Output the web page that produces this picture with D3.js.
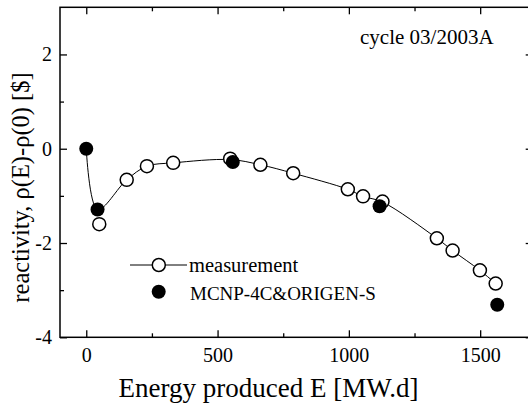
<!DOCTYPE html>
<html>
<head>
<meta charset="utf-8">
<script src="https://cdn.jsdelivr.net/npm/d3@7"></script>
<style>
  html, body { margin: 0; padding: 0; background: #fff; }
  svg { display: block; }
  text { font-family: "Liberation Serif", "Times New Roman", serif; fill: #000; }
</style>
</head>
<body>
<svg id="chart" width="528" height="407"></svg>
<script>
// Measured reactivity change vs. energy produced (open circles)
const measE = [49.5, 154, 231, 331, 548, 663, 788, 996, 1054, 1128, 1335, 1395, 1499, 1559];
const measV = [-1.60, -0.66, -0.37, -0.30, -0.21, -0.34, -0.52, -0.86, -1.01, -1.12, -1.90, -2.16, -2.58, -2.86];

// MCNP-4C & ORIGEN-S calculation (filled circles)
const calcE = [0, 43, 558, 1117, 1565];
const calcV = [0, -1.29, -0.28, -1.22, -3.31];

// Smooth trend line nodes
const fitE = [0, 43, 154, 231, 331, 548, 663, 788, 996, 1054, 1128, 1335, 1395, 1499, 1559];
const fitV = [0, -1.29, -0.66, -0.37, -0.30, -0.23, -0.34, -0.52, -0.86, -1.01, -1.13, -1.90, -2.16, -2.58, -2.86];

// Axis ticks
const xMajor = [0, 500, 1000, 1500];
const xMinor = [250, 750, 1250];
const yMajor = [-4, -2, 0, 2];
const yMinor = [-3, -1, 1];

const seriesNames = ["measurement", "MCNP-4C&ORIGEN-S"];
const annotation = "cycle 03/2003A";
const xTitle = "Energy produced E [MW.d]";
const yTitle = "reactivity, \u03C1(E)-\u03C1(0) [$]";

const svg = d3.select("#chart");
const plotL = 60, plotR = 532.7, plotT = 7.3, plotB = 337.3;

const x = d3.scaleLinear().domain([-100, 1700]).range([plotL, plotR]);
const y = d3.scaleLinear().domain([-4, 3]).range([plotB, plotT]);

const fmt = d => String(d);

function styleAxis(g) {
  g.select(".domain").remove();
  g.selectAll("line").attr("stroke", "#000").attr("stroke-width", 1.3);
  g.selectAll("text").style("font-size", "20px").attr("font-family", null);
}

// bottom axis: major with labels, minor without
svg.append("g").attr("transform", `translate(0,${plotB})`)
  .call(d3.axisBottom(x).tickValues(xMajor).tickFormat(fmt).tickSize(-7).tickPadding(10.5))
  .call(styleAxis);
svg.append("g").attr("transform", `translate(0,${plotB})`)
  .call(d3.axisBottom(x).tickValues(xMinor).tickFormat("").tickSize(-4))
  .call(styleAxis);
// top axis (mirror ticks)
svg.append("g").attr("transform", `translate(0,${plotT})`)
  .call(d3.axisTop(x).tickValues(xMajor).tickFormat("").tickSize(-7))
  .call(styleAxis);
svg.append("g").attr("transform", `translate(0,${plotT})`)
  .call(d3.axisTop(x).tickValues(xMinor).tickFormat("").tickSize(-4))
  .call(styleAxis);
// left axis
svg.append("g").attr("transform", `translate(${plotL},0)`)
  .call(d3.axisLeft(y).tickValues(yMajor).tickFormat(fmt).tickSize(-7).tickPadding(8))
  .call(styleAxis);
svg.append("g").attr("transform", `translate(${plotL},0)`)
  .call(d3.axisLeft(y).tickValues(yMinor).tickFormat("").tickSize(-4))
  .call(styleAxis);
// right axis (mirror ticks)
svg.append("g").attr("transform", `translate(${plotR},0)`)
  .call(d3.axisRight(y).tickValues(yMajor).tickFormat("").tickSize(-7))
  .call(styleAxis);
svg.append("g").attr("transform", `translate(${plotR},0)`)
  .call(d3.axisRight(y).tickValues(yMinor).tickFormat("").tickSize(-4))
  .call(styleAxis);

// frame
svg.append("rect")
  .attr("x", plotL).attr("y", plotT)
  .attr("width", plotR - plotL).attr("height", plotB - plotT)
  .attr("fill", "none").attr("stroke", "#000").attr("stroke-width", 1.5);

// trend line
const line = d3.line()
  .x((d, i) => x(fitE[i]))
  .y((d, i) => y(fitV[i]))
  .curve(d3.curveCatmullRom.alpha(0.5));
svg.append("path")
  .attr("d", line(fitE))
  .attr("fill", "none").attr("stroke", "#000").attr("stroke-width", 1);

// measured points
svg.append("g").selectAll("circle")
  .data(measE)
  .join("circle")
  .attr("cx", (d, i) => x(d))
  .attr("cy", (d, i) => y(measV[i]))
  .attr("r", 6.5)
  .attr("fill", "#fff").attr("stroke", "#000").attr("stroke-width", 1.5);

// calculated points
svg.append("g").selectAll("circle")
  .data(calcE)
  .join("circle")
  .attr("cx", (d, i) => x(d))
  .attr("cy", (d, i) => y(calcV[i]))
  .attr("r", 7)
  .attr("fill", "#000");

// legend
const lg = svg.append("g");
lg.append("line").attr("x1", 130).attr("x2", 187).attr("y1", 265).attr("y2", 265)
  .attr("stroke", "#000").attr("stroke-width", 1);
lg.append("circle").attr("cx", 158.8).attr("cy", 265).attr("r", 6.5)
  .attr("fill", "#fff").attr("stroke", "#000").attr("stroke-width", 1.5);
lg.append("text").attr("x", 189).attr("y", 271.7).style("font-size", "20.5px").text(seriesNames[0]);
lg.append("circle").attr("cx", 158.7).attr("cy", 291.7).attr("r", 7).attr("fill", "#000");
lg.append("text").attr("x", 190).attr("y", 300).style("font-size", "19px").text(seriesNames[1]);

// annotation
svg.append("text").attr("x", 360).attr("y", 44).style("font-size", "21px").text(annotation);

// axis titles
svg.append("text")
  .attr("x", 268.5).attr("y", 396.7)
  .attr("text-anchor", "middle")
  .style("font-size", "27px")
  .text(xTitle);
svg.append("text")
  .attr("transform", "translate(29,187.5) rotate(-90)")
  .attr("text-anchor", "middle")
  .style("font-size", "24.5px")
  .text(yTitle);
</script>
</body>
</html>
